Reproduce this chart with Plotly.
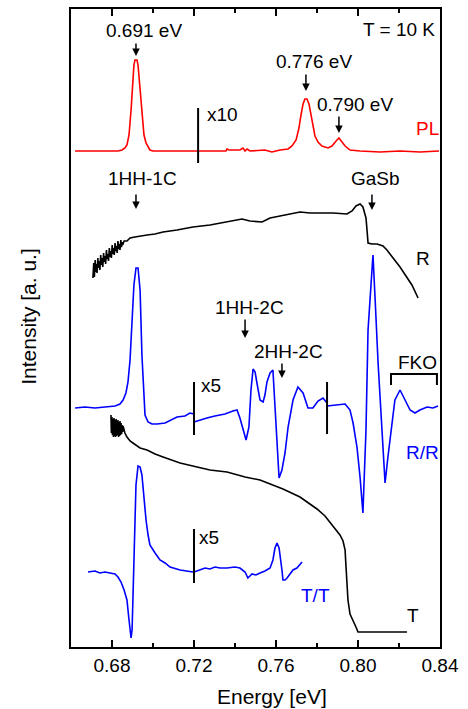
import plotly.graph_objects as go

# ---------------- data (Energy in eV, Intensity in a.u.) ----------------
pl_a_e = [0.6620,0.6693,0.6766,0.6829,0.6849,0.6863,0.6873,0.6883,0.6893,0.6902,0.6907,0.6912,0.6922,0.6927,0.6937,0.6946,0.6956,0.6966,0.6976,0.6985,0.7000,0.7034,0.7107,0.7180,0.7220]
pl_a_i = [496,496,496,496,497,499,502,512,537,567,582,587,587,582,557,529,512,504,500,497,496,496,496,496,496]

pl_b_e = [0.7220,0.7302,0.7356,0.7361,0.7371,0.7424,0.7439,0.7449,0.7459,0.7473,0.7546,0.7580,0.7620,0.7659,0.7678,0.7698,0.7712,0.7722,0.7732,0.7741,0.7751,0.7761,0.7771,0.7780,0.7790,0.7805,0.7824,0.7854,0.7873,0.7893,0.7907,0.7922,0.7937,0.7961,0.8010,0.8107,0.8205,0.8302,0.8395]
pl_b_i = [496,496,496,498,497,497,499,496,498,496,497,495,497,498,501,507,519,532,543,548,548,543,532,520,511,505,501,499,501,506,509,505,501,497,496,495,496,495,496]

r_e = [0.6707,0.6711,0.6714,0.6718,0.6720,0.6724,0.6727,0.6731,0.6734,0.6738,0.6741,0.6745,0.6748,0.6752,0.6755,0.6759,0.6762,0.6766,0.6769,0.6773,0.6776,0.6780,0.6783,0.6787,0.6790,0.6794,0.6797,0.6801,0.6804,0.6808,0.6811,0.6815,0.6818,0.6822,0.6825,0.6829,0.6832,0.6836,0.6839,0.6843,0.6846,0.6850,0.6852,0.6859,0.6873,0.6888,0.6912,0.6937,0.6971,0.7010,0.7049,0.7117,0.7195,0.7278,0.7361,0.7434,0.7473,0.7507,0.7532,0.7571,0.7644,0.7717,0.7766,0.7815,0.7878,0.7946,0.7971,0.7990,0.8010,0.8024,0.8039,0.8044,0.8049,0.8068,0.8093,0.8122,0.8141,0.8171,0.8205,0.8234,0.8263,0.8293]
r_i = [369,384,370,387,375,383,374,389,379,386,377,392,382,389,380,394,385,391,383,397,388,393,386,399,390,396,389,402,393,399,392,404,396,401,394,406,398,403,397,407,400,405,402,406,406,409,410,411,412,413,415,417,420,422,425,428,426,425,425,429,432,435,434,434,434,433,436,441,443,440,429,417,404,403,403,401,397,389,380,371,362,349]

rr_a_e = [0.6620,0.6668,0.6717,0.6766,0.6815,0.6839,0.6854,0.6868,0.6878,0.6888,0.6898,0.6907,0.6917,0.6927,0.6937,0.6941,0.6946,0.6956,0.6961,0.6976,0.6995,0.7020,0.7059,0.7117,0.7156,0.7180,0.7200]
rr_a_i = [239,240,239,240,241,243,247,254,265,287,327,362,379,379,357,327,292,252,232,225,223,223,224,230,231,234,233]

rr_b_e = [0.7200,0.7229,0.7263,0.7302,0.7351,0.7390,0.7410,0.7424,0.7439,0.7454,0.7468,0.7478,0.7488,0.7498,0.7507,0.7522,0.7537,0.7546,0.7556,0.7571,0.7585,0.7595,0.7605,0.7615,0.7629,0.7644,0.7659,0.7683,0.7707,0.7732,0.7756,0.7780,0.7805,0.7829,0.7849]
rr_b_i = [225,227,229,231,233,236,237,229,217,207,220,257,278,275,264,247,245,252,265,274,277,240,200,169,177,194,220,247,260,254,239,239,246,249,244]

rr_c_e = [0.7849,0.7888,0.7937,0.7961,0.7976,0.7995,0.8010,0.8024,0.8039,0.8049,0.8063,0.8073,0.8083,0.8098,0.8117,0.8132,0.8146,0.8166,0.8180,0.8205,0.8229,0.8254,0.8278,0.8302,0.8337,0.8366,0.8390]
rr_c_i = [241,242,243,237,224,200,170,134,217,317,367,392,350,284,217,164,190,224,247,257,247,237,234,237,240,239,241]

t_e = [0.6795,0.6797,0.6800,0.6802,0.6805,0.6807,0.6810,0.6812,0.6815,0.6817,0.6820,0.6822,0.6824,0.6827,0.6829,0.6832,0.6834,0.6837,0.6839,0.6842,0.6844,0.6847,0.6849,0.6852,0.6854,0.6863,0.6873,0.6888,0.6902,0.6937,0.6971,0.7010,0.7049,0.7132,0.7215,0.7278,0.7361,0.7449,0.7522,0.7571,0.7634,0.7717,0.7766,0.7800,0.7839,0.7878,0.7912,0.7927,0.7937,0.7941,0.7946,0.7951,0.7961,0.7976,0.7990,0.8000,0.8059,0.8156,0.8239]
t_i = [232,214,230,212,228,210,229,211,227,210,228,211,226,212,227,210,225,211,226,212,224,213,222,215,221,214,210,206,204,199,197,193,190,184,180,177,175,170,167,163,158,150,143,138,131,121,112,106,97,82,62,47,33,27,20,15,15,15,15]

tt_a_e = [0.6683,0.6717,0.6741,0.6766,0.6790,0.6815,0.6829,0.6844,0.6859,0.6873,0.6883,0.6893,0.6898,0.6902,0.6907,0.6912,0.6917,0.6927,0.6937,0.6946,0.6956,0.6966,0.6976,0.6985,0.7010,0.7034,0.7059,0.7083,0.7132,0.7195]
tt_a_i = [75,76,74,75,74,73,70,65,57,47,27,9,17,47,87,127,162,181,180,172,147,127,112,102,94,87,84,80,77,75]

tt_b_e = [0.7200,0.7229,0.7254,0.7278,0.7302,0.7327,0.7361,0.7400,0.7424,0.7449,0.7463,0.7483,0.7502,0.7522,0.7546,0.7571,0.7585,0.7595,0.7605,0.7615,0.7620,0.7629,0.7634,0.7644,0.7654,0.7668,0.7683,0.7702,0.7727]
tt_b_i = [75,77,79,78,80,79,79,80,79,75,69,73,72,74,76,79,87,99,104,99,92,77,67,67,69,73,77,79,85]

# scale-break markers: (energy, low, high)
breaks = [(0.7220, 484, 539), (0.7200, 212, 265), (0.7849, 213, 265), (0.7200, 64, 118)]

# text labels: (text, energy, intensity, colour)
labels = [
    ("0.691 eV", 0.6956, 617, "black"),
    ("0.776 eV", 0.7785, 586, "black"),
    ("0.790 eV", 0.7985, 543, "black"),
    ("T = 10 K", 0.8200, 618, "black"),
    ("PL", 0.8337, 519, "red"),
    ("x10", 0.7337, 533, "black"),
    ("1HH-1C", 0.6951, 469, "black"),
    ("GaSb", 0.8083, 469, "black"),
    ("R", 0.8317, 389, "black"),
    ("1HH-2C", 0.7473, 340, "black"),
    ("2HH-2C", 0.7659, 296, "black"),
    ("x5", 0.7283, 262, "black"),
    ("FKO", 0.8288, 285, "black"),
    ("R/R", 0.8317, 195, "blue"),
    ("T", 0.8268, 32, "black"),
    ("T/T", 0.7795, 52, "blue"),
    ("x5", 0.7273, 110, "black"),
]

# arrows: (energy, tail intensity, tip intensity)
arrows = [
    (0.6917, 605, 591),
    (0.7746, 574, 556),
    (0.7907, 532, 514),
    (0.6917, 454, 438),
    (0.8068, 454, 437),
    (0.7449, 329, 309),
    (0.7629, 285, 269),
]

# FKO bracket: (left, right, top, bottom)
fko = (0.8161, 0.8385, 273, 262)

FONT = "Liberation Sans, Arial, sans-serif"
fig = go.Figure()

def add_line(x, y, color):
    fig.add_trace(go.Scatter(x=x, y=y, mode="lines", line=dict(color=color, width=1.6),
                             showlegend=False, hoverinfo="skip"))

add_line(pl_a_e, pl_a_i, "#ff0000")
add_line(pl_b_e, pl_b_i, "#ff0000")
add_line(r_e, r_i, "black")
add_line(rr_a_e, rr_a_i, "#0000ff")
add_line(rr_b_e, rr_b_i, "#0000ff")
add_line(rr_c_e, rr_c_i, "#0000ff")
add_line(t_e, t_i, "black")
add_line(tt_a_e, tt_a_i, "#0000ff")
add_line(tt_b_e, tt_b_i, "#0000ff")

for e, lo, hi in breaks:
    fig.add_trace(go.Scatter(x=[e, e], y=[lo, hi], mode="lines", line=dict(color="black", width=2),
                             showlegend=False, hoverinfo="skip"))

l, r, top, bot = fko
fig.add_trace(go.Scatter(x=[l, l, r, r], y=[bot, top, top, bot], mode="lines",
                         line=dict(color="black", width=2), showlegend=False, hoverinfo="skip"))

for txt, e, v, c in labels:
    fig.add_annotation(x=e, y=v, text=txt, showarrow=False, xref="x", yref="y",
                       xanchor="center", yanchor="middle",
                       font=dict(family=FONT, size=19, color=c))

for e, tail, tip in arrows:
    fig.add_annotation(x=e, y=tip, ax=e, ay=tail, xref="x", yref="y", axref="x", ayref="y",
                       text="", showarrow=True, arrowhead=2, arrowsize=1, arrowwidth=1.5,
                       arrowcolor="black", standoff=0, startstandoff=0)

fig.add_annotation(x=0.545, y=-0.077, xref="paper", yref="paper", text="Energy [eV]",
                   xanchor="center", yanchor="middle",
                   showarrow=False, font=dict(family=FONT, size=21, color="black"))
fig.add_annotation(x=-0.114, y=0.519, xref="paper", yref="paper", text="Intensity [a. u.]",
                   xanchor="center", yanchor="middle",
                   textangle=-90, showarrow=False, font=dict(family=FONT, size=21, color="black"))

fig.update_xaxes(range=[0.66, 0.84], tick0=0.68, dtick=0.04, tickformat=".2f",
                 ticks="inside", ticklen=7, tickwidth=1.5, tickcolor="black",
                 minor=dict(dtick=0.02, tick0=0.66, ticks="inside", ticklen=4, tickwidth=1.5, tickcolor="black"),
                 showline=True, linewidth=2, linecolor="black", mirror="allticks",
                 showgrid=False, zeroline=False, automargin=False,
                 tickfont=dict(family=FONT, size=19, color="black"))
fig.update_yaxes(range=[0, 638], showticklabels=False, ticks="", showline=True, linewidth=2,
                 linecolor="black", mirror=True, showgrid=False, zeroline=False, automargin=False)

fig.update_layout(width=468, height=709, margin=dict(l=71, r=28, t=9, b=62, autoexpand=False),
                  plot_bgcolor="white", paper_bgcolor="white", hovermode=False,
                  font=dict(family=FONT, color="black"))

fig.write_html("out.html", config={"displayModeBar": False, "staticPlot": True},
               post_script="document.body.style.margin='0';document.body.style.overflow='hidden';")
